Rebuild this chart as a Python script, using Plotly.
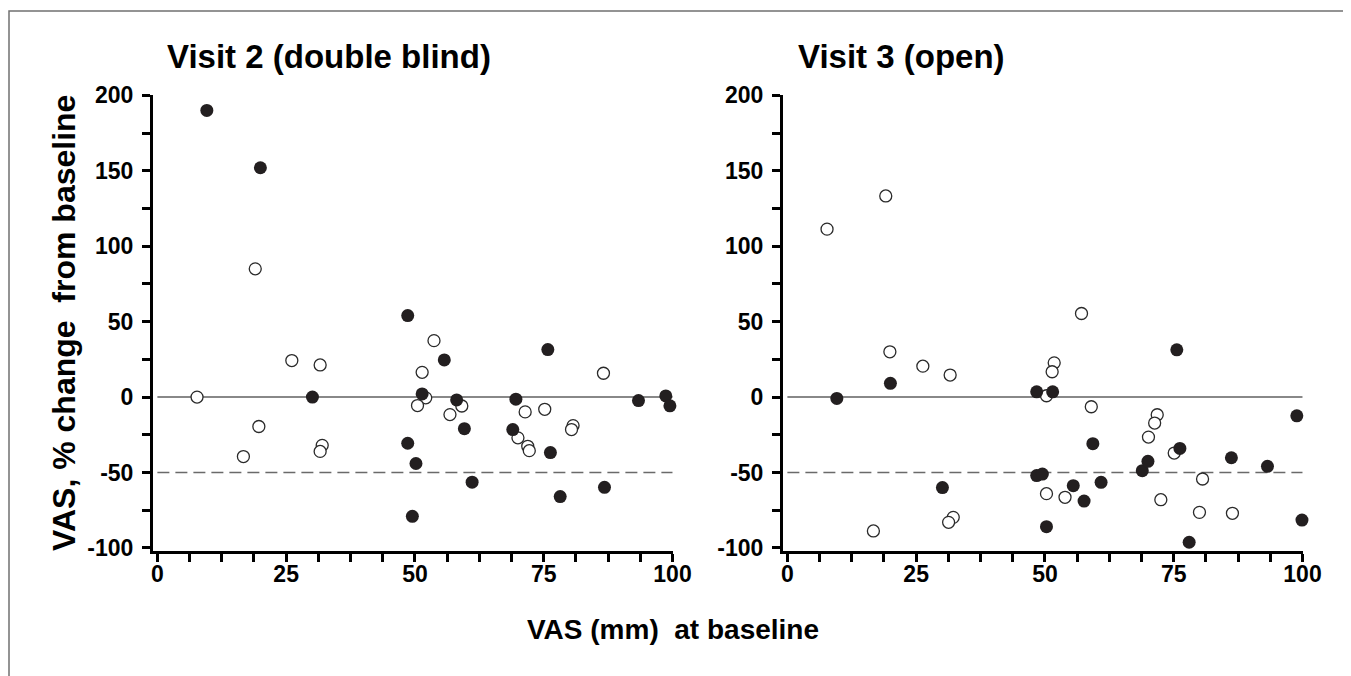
import plotly.graph_objects as go

# ---------------- data ----------------
# Visit 2 (double blind)
v2_filled_x = [9.6, 20.0, 30.1, 48.6, 48.6, 50.2, 49.5, 51.4, 55.7, 58.1, 59.6,
               61.1, 69.6, 69.0, 75.8, 76.3, 78.2, 86.8, 93.4, 98.7, 99.5]
v2_filled_y = [190, 152, 0, 54, -30.6, -44, -79, 2.1, 24.6, -1.9, -20.9,
               -56.4, -1.4, -21.5, 31.5, -36.8, -65.9, -59.8, -2.3, 0.8, -5.8]
v2_open_x = [7.7, 19.0, 26.1, 31.6, 19.7, 16.7, 32.0, 31.6, 53.7, 51.4, 52.1,
             50.5, 59.1, 56.8, 71.4, 75.2, 70.0, 71.9, 72.2, 80.7, 80.4, 86.6]
v2_open_y = [0, 85, 24.2, 21.3, -19.5, -39.4, -32, -36, 37.4, 16.4, -0.5,
             -5.6, -5.9, -11.6, -9.8, -8.1, -27, -32.6, -35.5, -18.9, -21.5, 15.8]

# Visit 3 (open)
v3_filled_x = [9.6, 20.0, 30.1, 48.4, 51.5, 48.4, 49.5, 50.3, 55.5, 57.6, 59.3,
               60.9, 68.9, 70.0, 75.6, 76.2, 78.0, 86.2, 93.2, 98.9, 99.9]
v3_filled_y = [-0.9, 9.1, -60, 3.5, 3.5, -52, -51, -85.9, -58.7, -68.9, -30.9,
               -56.5, -48.8, -42.6, 31.3, -34, -96.2, -40.2, -45.9, -12.4, -81.5]
v3_open_x = [7.7, 19.1, 19.9, 26.3, 31.6, 16.7, 32.2, 31.3, 51.8, 51.4, 50.3,
             50.3, 53.9, 57.1, 59.0, 71.8, 71.3, 70.1, 75.1, 72.5, 80.6, 80.0, 86.4]
v3_open_y = [111.3, 133.3, 30, 20.5, 14.6, -88.7, -79.7, -83, 22.7, 16.8, 0.9,
             -64, -66.4, 55.4, -6.4, -11.7, -17.2, -26.5, -37.1, -68, -54.3, -76.4, -77]

panel_titles = ["Visit 2 (double blind)", "Visit 3 (open)"]
x_title = "VAS (mm)  at baseline"
y_title = "VAS, % change  from baseline"
x_tickvals = [0, 25, 50, 75, 100]
x_ticktext = ["0", "25", "50", "75", "100"]
y_tickvals = [-100, -50, 0, 50, 100, 150, 200]
y_ticktext = ["-100", "-50", "0", "50", "100", "150", "200"]
ref_solid = 0
ref_dashed = -50

# ---------------- figure ----------------
W, H = 1351, 676
OFF = 8  # page body margin in the browser
FONT = "Liberation Sans, Arial, sans-serif"
DARK = "#231f20"


def px(v):
    return (v - OFF) / W


def py(v):
    return 1 - (v - OFF) / H


fig = go.Figure()
fig.update_layout(template="none")


def add_panel(fx, fy, ox, oy, xa, ya):
    fig.add_trace(go.Scatter(x=ox, y=oy, mode="markers", xaxis=xa, yaxis=ya,
                             marker=dict(size=12, color="white",
                                         line=dict(color="#2a2a2a", width=1.3)),
                             showlegend=False, hoverinfo="skip", cliponaxis=False))
    fig.add_trace(go.Scatter(x=fx, y=fy, mode="markers", xaxis=xa, yaxis=ya,
                             marker=dict(size=13, color=DARK,
                                         line=dict(color=DARK, width=0)),
                             showlegend=False, hoverinfo="skip", cliponaxis=False))


add_panel(v2_filled_x, v2_filled_y, v2_open_x, v2_open_y, "x", "y")
add_panel(v3_filled_x, v3_filled_y, v3_open_x, v3_open_y, "x2", "y2")

tickfont = dict(family=FONT, size=23, color="black", weight="bold")


def xaxis_cfg(domain, anchor):
    return dict(domain=domain, anchor=anchor, range=[-0.85, 100.1], automargin=False,
                tickvals=x_tickvals, ticktext=x_ticktext, ticks="outside",
                ticklen=8, tickwidth=2.5,
                tickcolor="black", showline=True, linewidth=3, linecolor="black",
                showgrid=False, zeroline=False, tickfont=tickfont,
                ticklabelstandoff=-8,
                minor=dict(dtick=6.25, ticks="outside", ticklen=8, tickwidth=2.5,
                           tickcolor="black", showgrid=False))


def yaxis_cfg(domain, anchor):
    return dict(domain=domain, anchor=anchor, range=[-102, 200.2], automargin=False,
                tickvals=y_tickvals, ticktext=y_ticktext, ticks="outside",
                ticklen=8, tickwidth=2.5,
                tickcolor="black", showline=True, linewidth=3, linecolor="black",
                showgrid=False, zeroline=False, tickfont=tickfont,
                ticklabelstandoff=4,
                minor=dict(dtick=25, ticks="outside", ticklen=8, tickwidth=2.5,
                           tickcolor="black", showgrid=False))


ydom = [py(551), py(95)]
fig.update_layout(
    width=W, height=H, autosize=False,
    margin=dict(l=0, r=0, t=0, b=0, pad=0, autoexpand=False),
    paper_bgcolor="white", plot_bgcolor="white",
    xaxis=xaxis_cfg([px(153), px(673)], "y"),
    yaxis=yaxis_cfg(ydom, "x"),
    xaxis2=xaxis_cfg([px(783), px(1303)], "y2"),
    yaxis2=yaxis_cfg(ydom, "x2"),
)

shapes = []
for xr, yr in [("x", "y"), ("x2", "y2")]:
    shapes.append(dict(type="line", xref=xr, yref=yr, x0=0, x1=100,
                       y0=ref_solid, y1=ref_solid,
                       line=dict(color="#606060", width=1.5), layer="below"))
    shapes.append(dict(type="line", xref=xr, yref=yr, x0=0, x1=100,
                       y0=ref_dashed, y1=ref_dashed,
                       line=dict(color="#6a6a6a", width=1.5, dash="12px,6px"),
                       layer="below"))
# outer frame (top and left edges visible)
shapes.append(dict(type="rect", xref="paper", yref="paper",
                   x0=px(9), x1=1.05, y0=-0.05, y1=py(11),
                   line=dict(color="#707070", width=1.5), layer="below"))
fig.update_layout(shapes=shapes)

ann = []
ann.append(dict(text=panel_titles[0], x=px(165), y=py(57), xref="paper", yref="paper",
                xanchor="left", yanchor="middle", showarrow=False,
                font=dict(family=FONT, size=33, color="black", weight="bold")))
ann.append(dict(text=panel_titles[1], x=px(796), y=py(57), xref="paper", yref="paper",
                xanchor="left", yanchor="middle", showarrow=False,
                font=dict(family=FONT, size=33, color="black", weight="bold")))
ann.append(dict(text=x_title, x=px(673), y=py(629), xref="paper", yref="paper",
                xanchor="center", yanchor="middle", showarrow=False,
                font=dict(family=FONT, size=28, color="black", weight="bold")))
ann.append(dict(text=y_title, x=px(64), y=py(323), xref="paper", yref="paper",
                xanchor="center", yanchor="middle", showarrow=False, textangle=-90,
                font=dict(family=FONT, size=32, color="black", weight="bold")))
fig.update_layout(annotations=ann)

fig.write_html("out.html", config={"displayModeBar": False})
